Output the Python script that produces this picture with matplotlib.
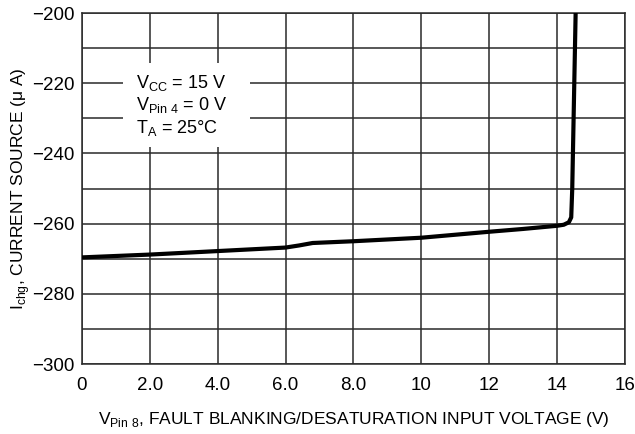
import numpy as np
import matplotlib
matplotlib.use("Agg")
import matplotlib.pyplot as plt
from matplotlib.patches import Rectangle

# curve
v_pin8 = [0.0, 1.0, 2.0, 3.0, 4.0, 5.0, 6.0, 6.4, 6.8, 8.0, 10.0, 12.0, 13.0, 14.0, 14.2, 14.35, 14.42, 14.45, 14.5, 14.55]
i_chg = [-269.6, -269.2, -268.8, -268.3, -267.8, -267.3, -266.8, -266.2, -265.5, -265.0, -264.0, -262.3, -261.5, -260.6, -260.3, -259.6, -258.2, -250.0, -225.0, -200.0]

x_ticks = [0, 2, 4, 6, 8, 10, 12, 14, 16]
x_labels = ["0", "2.0", "4.0", "6.0", "8.0", "10", "12", "14", "16"]
y_ticks = [-300, -280, -260, -240, -220, -200]
y_labels = ["\u2212300", "\u2212280", "\u2212260", "\u2212240", "\u2212220", "\u2212200"]

plt.rcParams['font.family'] = ['Liberation Sans', 'DejaVu Sans']
plt.rcParams['mathtext.fontset'] = 'custom'
plt.rcParams['mathtext.rm'] = 'Liberation Sans'

fig = plt.figure(figsize=(6.35, 4.34), dpi=100)
ax = fig.add_axes([0.129, 0.161, 0.855, 0.809])

ax.set_xlim(0, 16)
ax.set_ylim(-300, -200)
ax.set_xticks(x_ticks)
ax.set_xticklabels(x_labels)
ax.set_yticks(y_ticks)
ax.set_yticklabels(y_labels)
ax.set_yticks(np.arange(-290, -200, 20), minor=True)
ax.tick_params(which='both', length=0, labelsize=13.5)
ax.tick_params(axis='x', pad=9)
ax.tick_params(axis='y', pad=5)
ax.grid(True, which='both', color='#2a2a2a', linewidth=1.1)
ax.set_axisbelow(True)
for s in ax.spines.values():
    s.set_color('#2a2a2a')
    s.set_linewidth(1.1)

# white box behind the conditions text
ax.add_patch(Rectangle((1.2, -238.2), 3.75, 24.0, facecolor='white', edgecolor='none', zorder=1.5))
ax.text(1.6, -219.8, r"V$_{\rm CC}$ = 15 V", fontsize=13, va='center', zorder=3)
ax.text(1.6, -226.3, r"V$_{\rm Pin\ 4}$ = 0 V", fontsize=13, va='center', zorder=3)
ax.text(1.6, -232.8, r"T$_{\rm A}$ = 25°C", fontsize=13, va='center', zorder=3)

ax.plot(v_pin8, i_chg, color='black', linewidth=3, solid_capstyle='butt', zorder=4)

ax.set_xlabel(r"V$_{\rm Pin\ 8}$, FAULT BLANKING/DESATURATION INPUT VOLTAGE (V)", fontsize=12.5, labelpad=12)
ax.set_ylabel(r"I$_{\rm chg}$, CURRENT SOURCE (μ A)", fontsize=12.5, labelpad=0)

plt.savefig("out.png", dpi=100)
